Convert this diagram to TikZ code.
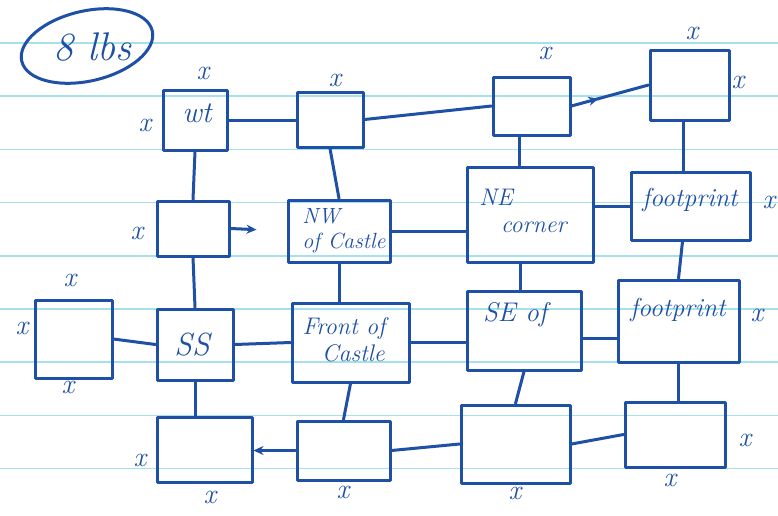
\documentclass[tikz,border=0pt]{standalone}
\usetikzlibrary{shapes.geometric,arrows.meta,decorations.markings}
\definecolor{pen}{RGB}{30,80,165}
\definecolor{ruling}{RGB}{165,225,235}
\begin{document}
\begin{tikzpicture}[x=1pt,y=-1pt,
  box/.style={draw=pen, line width=3pt, rectangle, inner sep=0pt, line join=round},
  lbl/.style={text=pen, font=\fontsize{24}{27}\selectfont\itshape, align=left, inner sep=0pt},
  xm/.style={text=pen, font=\fontsize{28}{28}\selectfont\itshape, inner sep=0pt},
  link/.style={draw=pen, line width=3pt, line cap=round},
  arr/.style={link, -{Stealth[length=10pt,width=9pt]}},
  midarr/.style={link, postaction={decorate}, decoration={markings, mark=at position 0.35 with {\arrow{Stealth[length=10pt,width=9pt]}}}}
]
\useasboundingbox (0,0) rectangle (778,515);
\fill[white] (0,0) rectangle (778,515);
\foreach \yy in {43,96.2,149.4,202.6,255.8,309,362.2,415.4,468.6}
  \draw[ruling, line width=1.6pt] (0,\yy) -- (778,\yy);

\newcommand\mybox[5]{\node[box, minimum width=#4pt, minimum height=#5pt] (#1) at (#2,#3) {};}

% title oval
\node[draw=pen, line width=3pt, ellipse, rotate=13, minimum width=134pt, minimum height=70pt] (lbs) at (87,46) {};
\node[text=pen, font=\fontsize{40}{40}\selectfont\itshape, inner sep=0pt] (tlbs) at (92,47) {8 lbs};

% row 1
\mybox{wt}{195}{120}{64}{60}
\mybox{b2}{330}{119.5}{66}{55}
\mybox{b3}{531.5}{106}{77}{58}
\mybox{b4}{689.5}{85}{79}{70}
% row 2
\mybox{b5}{193}{228.5}{72}{55}
\mybox{nw}{339}{231}{102}{62}
\mybox{ne}{530}{214.5}{126}{95}
\mybox{fp1}{690.5}{206}{119}{68}
% row 3
\mybox{lb}{73.5}{339}{77}{78}
\mybox{ss}{195}{344.5}{76}{71}
\mybox{fc}{350.5}{342.5}{117}{79}
\mybox{se}{524}{330.5}{114}{79}
\mybox{fp2}{678.5}{321}{121}{82}
% row 4
\mybox{bl}{204.5}{449.5}{95}{65}
\mybox{b14}{343.5}{450.5}{93}{59}
\mybox{b15}{515.5}{444}{109}{78}
\mybox{b16}{675}{434.5}{100}{65}

% texts in boxes
\node[lbl, font=\fontsize{30}{30}\selectfont\itshape] (twt) at (197,113) {wt};
\node[lbl, font=\fontsize{22}{25}\selectfont\itshape] (tnw) at (344,231) {NW\\of Castle};
\node[lbl] (tne) at (523,211) {NE\\\hspace*{0.9em}corner};
\node[lbl, font=\fontsize{26}{26}\selectfont\itshape] (tfp1) at (690,200) {footprint};
\node[lbl, font=\fontsize{32}{32}\selectfont\itshape] (tss) at (192,345) {SS};
\node[lbl] (tfc) at (344,340) {Front of\\\hspace*{0.8em}Castle};
\node[lbl, font=\fontsize{27}{27}\selectfont\itshape] (tse) at (515,315) {SE of};
\node[lbl, font=\fontsize{26}{26}\selectfont\itshape] (tfp2) at (678,310) {footprint};

% connectors
\draw[link] (wt.east) -- (wt.east -| b2.west);
\draw[link] (b2.east) -- (b3.west);
\draw[midarr] (b3.east) -- (b4.west);
\draw[arr, shorten >=30pt] (b5.east) -- (nw.west);
\draw[link] (nw.east) -- (nw.east -| ne.west);
\draw[link] (fp1.west) -- (fp1.west -| ne.east);
\draw[link] (lb.east) -- (ss.west);
\draw[link] (ss.east) -- (fc.west);
\draw[link] (fc.east) -- (fc.east -| se.west);
\draw[link] ([yshift=-8pt]se.east) -- ([yshift=-8pt]se.east -| fp2.west);
\draw[arr] (b14.west) -- (b14.west -| bl.east);
\draw[link] (b14.east) -- (b15.west);
\draw[link] (b15.east) -- (b16.west);

\draw[link] (wt.south) -- (b5.north);
\draw[link] (b2.south) -- (nw.north);
\draw[link] ([xshift=-12pt]b3.south) -- ([xshift=-12pt]b3.south |- ne.north);
\draw[link] ([xshift=-6pt]b4.south) -- ([xshift=-6pt]b4.south |- fp1.north);
\draw[link] (b5.south) -- (ss.north);
\draw[link] (nw.south) -- (nw.south |- fc.north);
\draw[link] ([xshift=-10pt]ne.south) -- ([xshift=-10pt]ne.south |- se.north);
\draw[link] ([xshift=-8pt]fp1.south) -- (fp2.north);
\draw[link] (ss.south) -- (ss.south |- bl.north);
\draw[link] (fc.south) -- (b14.north);
\draw[link] (se.south) -- (b15.north);
\draw[link] (fp2.south) -- (fp2.south |- b16.north);

% x marks
\node[xm] (x1) at (203,73) {x};
\node[xm] (x2) at (145,125) {x};
\node[xm] (x3) at (335,80) {x};
\node[xm] (x4) at (545,53) {x};
\node[xm] (x5) at (692,33) {x};
\node[xm] (x6) at (738,82) {x};
\node[xm] (x7) at (137,233) {x};
\node[xm] (x8) at (769,202) {x};
\node[xm] (x9) at (70,280) {x};
\node[xm] (x10) at (22,328) {x};
\node[xm] (x11) at (68,387) {x};
\node[xm] (x12) at (757,315) {x};
\node[xm] (x13) at (140,460) {x};
\node[xm] (x14) at (210,497) {x};
\node[xm] (x15) at (343,492) {x};
\node[xm] (x16) at (515,493) {x};
\node[xm] (x17) at (670,480) {x};
\node[xm] (x18) at (745,440) {x};
\end{tikzpicture}
\end{document}
